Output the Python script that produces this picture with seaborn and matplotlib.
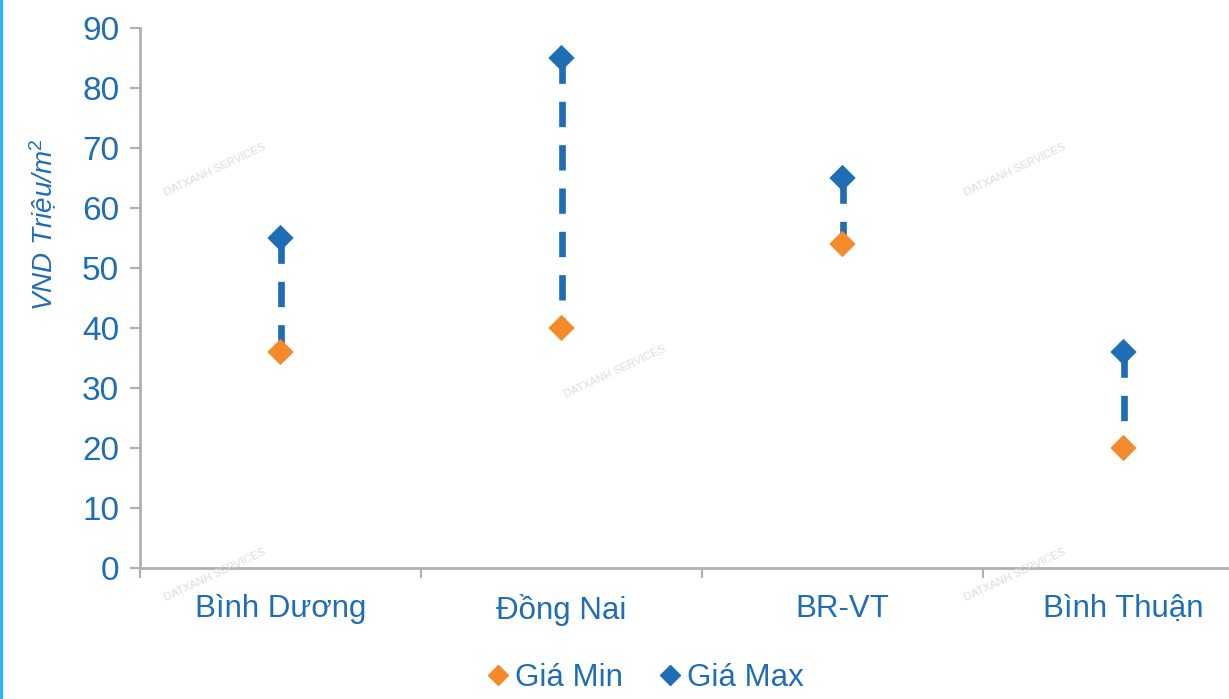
import pandas as pd
import numpy as np
import matplotlib.pyplot as plt
import matplotlib.lines as mlines
import seaborn as sns

sns.set_style('white')
plt.rcParams['font.family'] = ['Liberation Sans', 'DejaVu Sans']
plt.rcParams['mathtext.fontset'] = 'custom'
plt.rcParams['mathtext.it'] = 'Liberation Sans:italic'
plt.rcParams['mathtext.rm'] = 'Liberation Sans'

# Data
regions = ['Bình Dương', 'Đồng Nai', 'BR-VT', 'Bình Thuận']
gia_min = [36, 40, 54, 20]
gia_max = [55, 85, 65, 36]
y_ticks = [0, 10, 20, 30, 40, 50, 60, 70, 80, 90]

blue = '#1f6db5'
orange = '#f48a2a'
grey = '#b0b0b0'

df = pd.DataFrame({
    'region': regions * 2,
    'value': gia_min + gia_max,
    'series': ['Giá Min'] * 4 + ['Giá Max'] * 4,
})
df['x'] = df['region'].map({r: i for i, r in enumerate(regions)})

fig = plt.figure(figsize=(12.29, 6.99), dpi=100)
ax = fig.add_axes([140 / 1229, 131 / 699, 1124 / 1229, 540 / 699])

# dashed range lines, dash pattern starts at the max marker
ax.vlines(range(len(regions)), gia_max, gia_min, colors=blue, linewidth=4.8,
          linestyles=(0, (3.8, 2.7)), zorder=2)

sns.scatterplot(data=df, x='x', y='value', hue='series', style='series',
                markers={'Giá Min': 'D', 'Giá Max': 'D'},
                palette={'Giá Min': orange, 'Giá Max': blue},
                s=180, edgecolor='none', legend=False, ax=ax, zorder=3)

ax.set_xlim(-0.5, len(regions) - 0.5)
ax.set_ylim(0, 90)
ax.set_yticks(y_ticks)
ax.set_yticklabels([str(v) for v in y_ticks], color=blue, fontsize=24)
ax.set_xticks(range(len(regions)))
ax.set_xticklabels(regions, color=blue, fontsize=22.5)
ax.set_xticks(np.arange(-0.5, len(regions), 1), minor=True)
ax.tick_params(axis='x', which='major', bottom=False, length=0, pad=19)
ax.tick_params(axis='x', which='minor', bottom=True, length=7, color=grey, width=1.5,
               direction='out')
ax.tick_params(axis='y', left=True, length=7, color=grey, width=1.5, direction='out', pad=8)
ax.set_xlabel('')
ax.set_ylabel('VND Triệu/m$^2$', color=blue, fontsize=20, style='italic')
ax.yaxis.set_label_coords(-0.072, 0.635)

for side in ['top', 'right']:
    ax.spines[side].set_visible(False)
for side in ['left', 'bottom']:
    ax.spines[side].set_color(grey)
    ax.spines[side].set_linewidth(2)

# watermarks
for (wx, wy) in [(215, 170), (615, 372), (1015, 170), (215, 575), (1015, 575)]:
    fig.text(wx / 1229, 1 - wy / 699, 'DATXANH SERVICES', fontsize=8, color='#dcdcdc',
             rotation=25, ha='center', va='center')

handles = [
    mlines.Line2D([], [], color=orange, marker='D', linestyle='none', markersize=10, label='Giá Min'),
    mlines.Line2D([], [], color=blue, marker='D', linestyle='none', markersize=10, label='Giá Max'),
]
leg = fig.legend(handles=handles, loc='center', bbox_to_anchor=(0.523, 1 - 678 / 699), ncol=2,
                 frameon=False, fontsize=22.5, handletextpad=0.05, columnspacing=1.0,
                 handlelength=1.0)
for t in leg.get_texts():
    t.set_color(blue)

# left border line
fig.add_artist(mlines.Line2D([0.001, 0.001], [0, 1], color='#29b6f6', linewidth=3,
                             transform=fig.transFigure))

fig.savefig('out.png', dpi=100)
